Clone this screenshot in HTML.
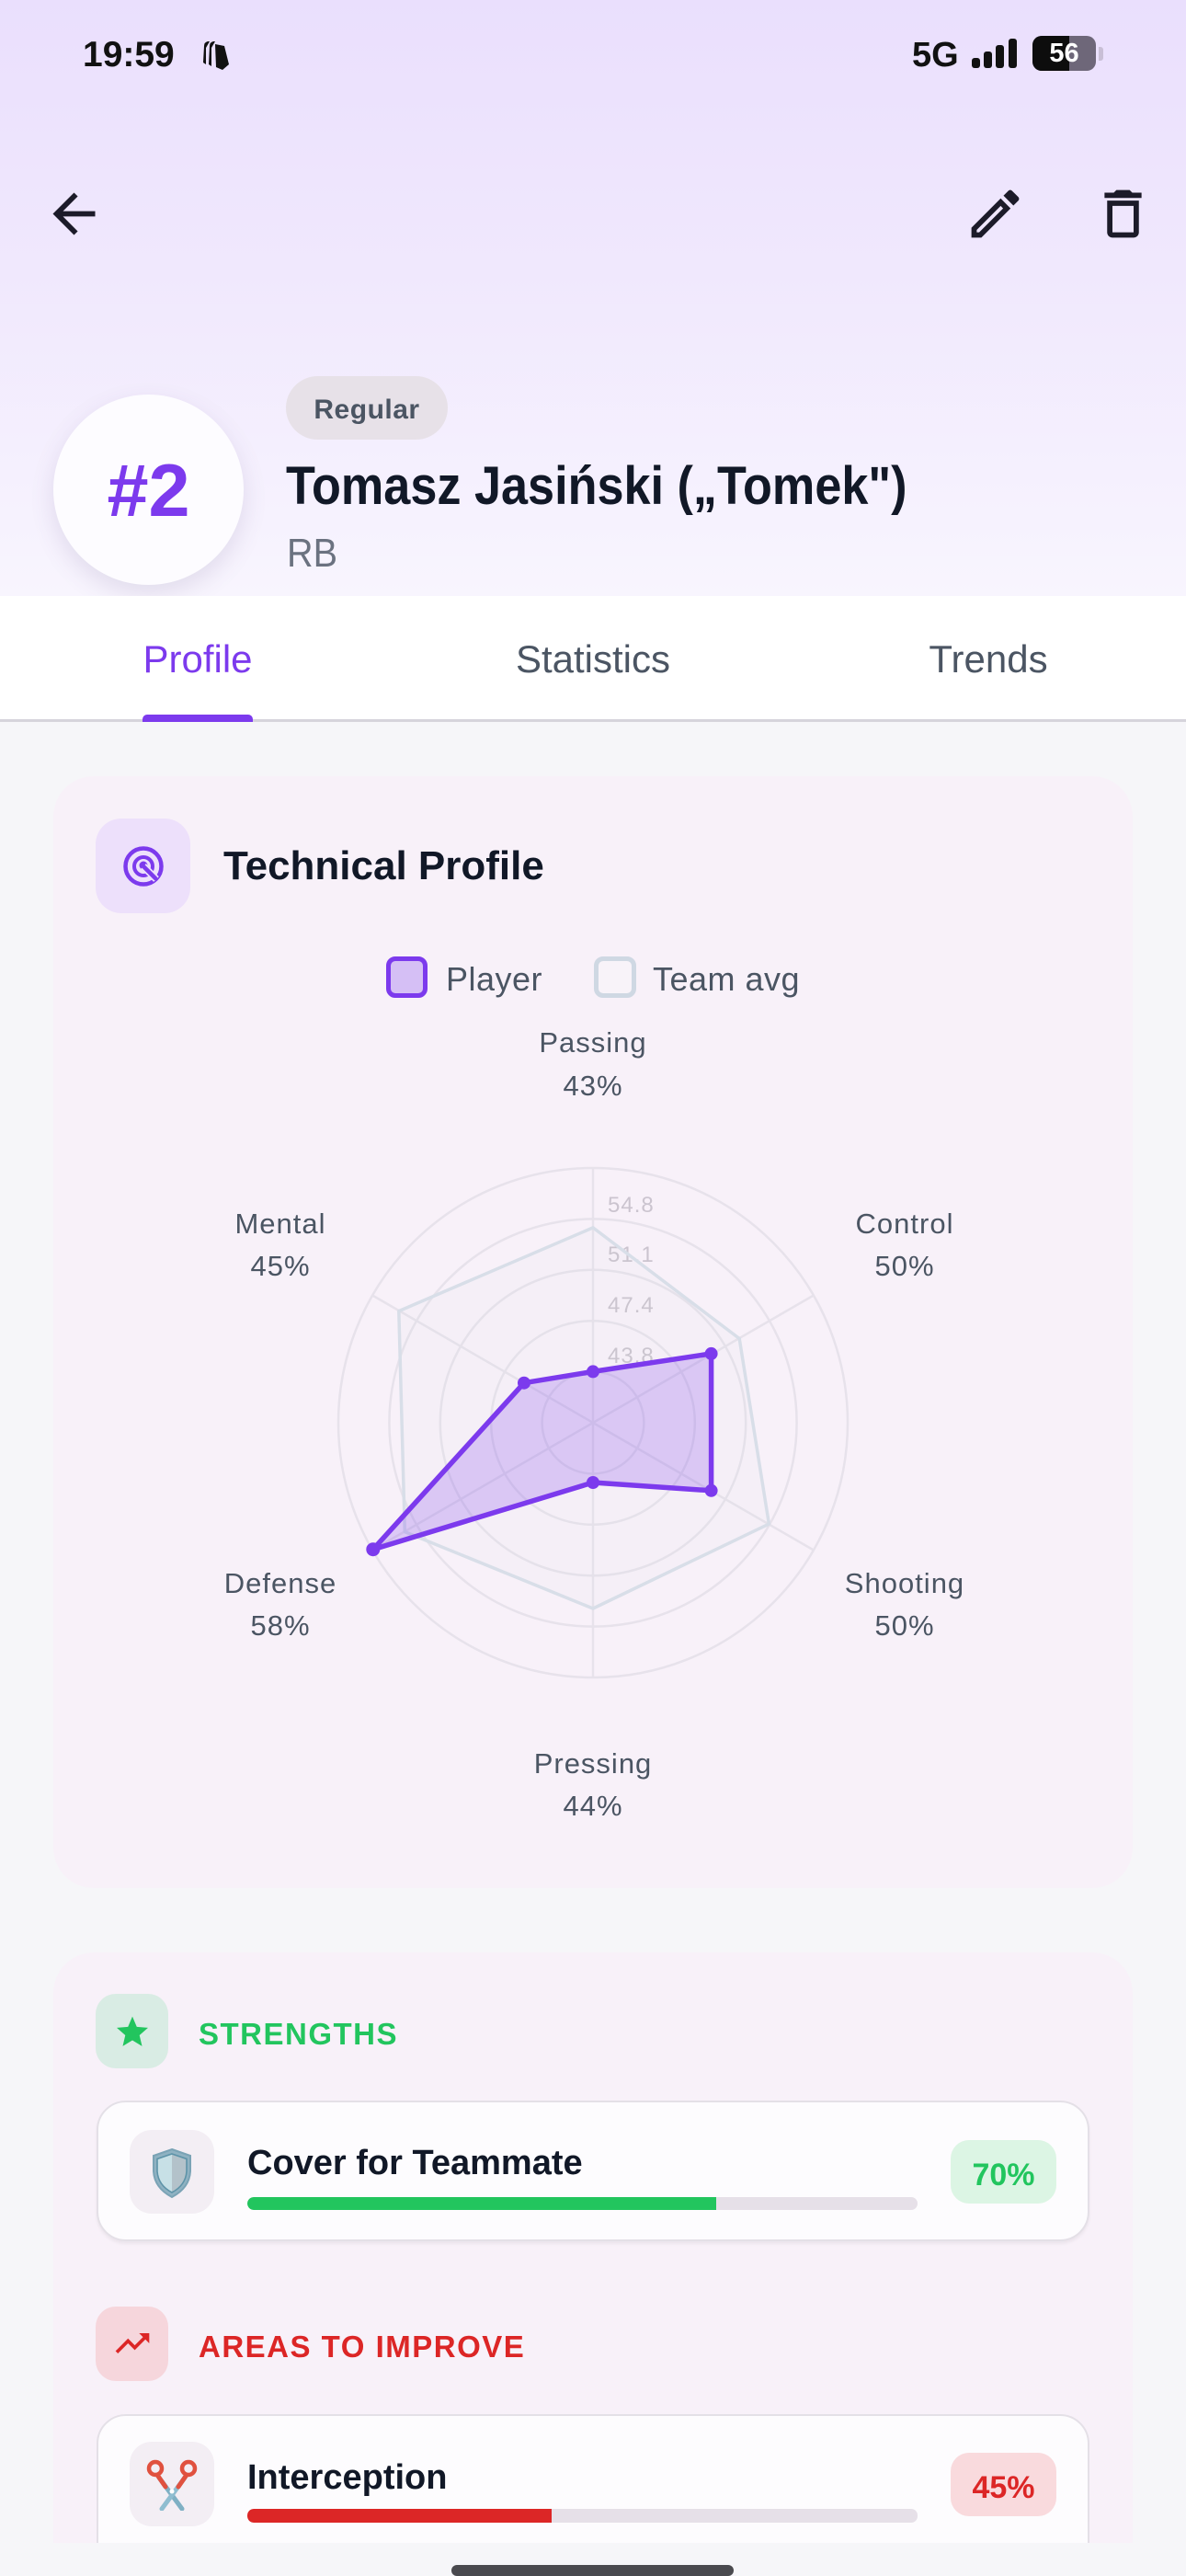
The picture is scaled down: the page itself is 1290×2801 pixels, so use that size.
<!DOCTYPE html>
<html>
<head>
<meta charset="utf-8">
<style>
  html,body{margin:0;padding:0;}
  body{width:1290px;height:2796px;position:relative;overflow:hidden;background:#f6f6f9;font-family:"Liberation Sans",sans-serif;}
  .abs{position:absolute;}
  .hdr{left:0;top:0;width:1290px;height:648px;background:linear-gradient(180deg,#eadffd 0%,#f0e8fd 45%,#f8f5fe 100%);}
  .tabs{left:0;top:648px;width:1290px;height:134px;background:#fff;border-bottom:3px solid #d6d4dc;}
  .tab{top:692px;font-size:42px;color:#4b5563;width:430px;text-align:center;line-height:50px;}
  .txt{white-space:nowrap;line-height:1;}
</style>
</head>
<body>
<!-- header -->
<div class="abs hdr"></div>

<!-- status bar -->
<div class="abs txt" style="left:90px;top:40px;font-size:39px;font-weight:bold;color:#111;">19:59</div>
<svg class="abs" style="left:218px;top:42px" width="36" height="36" viewBox="0 0 36 36">
  <path d="M4 8 Q4 4 8 3 L10 3 L6 10 L6 28 L3 26 Z" fill="#111"/>
  <path d="M10 8 Q10 4 14 3 L16 3 L12 10 L12 30 L9 28 Z" fill="#111"/>
  <path d="M16 6 L26 8 L31 28 L24 34 L17 31 Z" fill="#111"/>
</svg>
<div class="abs txt" style="left:992px;top:41px;font-size:38px;font-weight:bold;color:#111;">5G</div>
<div class="abs" style="left:1057px;top:63px;width:9px;height:11px;background:#111;border-radius:3px;"></div>
<div class="abs" style="left:1070px;top:56px;width:9px;height:18px;background:#111;border-radius:3px;"></div>
<div class="abs" style="left:1083px;top:49px;width:9px;height:25px;background:#111;border-radius:3px;"></div>
<div class="abs" style="left:1097px;top:42px;width:9px;height:32px;background:#111;border-radius:3px;"></div>
<div class="abs" style="left:1123px;top:39px;width:69px;height:38px;border-radius:10px;overflow:hidden;background:#6e6779;">
  <div style="position:absolute;left:0;top:0;width:40px;height:38px;background:#0d0d0d;"></div>
  <div style="position:absolute;left:0;top:5px;width:69px;text-align:center;font-size:29px;font-weight:bold;color:#fff;line-height:29px;">56</div>
</div>
<div class="abs" style="left:1195px;top:51px;width:5px;height:15px;background:#c9bfd6;border-radius:0 3px 3px 0;"></div>

<!-- top action icons -->
<svg class="abs" style="left:46px;top:198px" width="69" height="69" viewBox="0 0 24 24"><path d="M20 11H7.83l5.59-5.59L12 4l-8 8 8 8 1.41-1.41L7.83 13H20v-2z" fill="#1c1b29"/></svg>
<svg class="abs" style="left:1048px;top:198px" width="69" height="69" viewBox="0 0 24 24"><path d="M3 17.25V21h3.75L17.81 9.94l-3.75-3.75L3 17.25zM5.92 19H5v-.92l9.06-9.06.92.92L5.92 19zM20.71 5.63l-2.34-2.34c-.2-.2-.45-.29-.71-.29s-.51.1-.7.29l-1.83 1.83 3.75 3.75 1.83-1.83c.39-.39.39-1.02 0-1.41z" fill="#1c1b29"/></svg>
<svg class="abs" style="left:1187px;top:198px" width="69" height="69" viewBox="0 0 24 24"><path d="M6 19c0 1.1.9 2 2 2h8c1.1 0 2-.9 2-2V7H6v12zM8 9h8v10H8V9zm7.5-5l-1-1h-5l-1 1H5v2h14V4z" fill="#1c1b29"/></svg>

<!-- avatar -->
<div class="abs" style="left:58px;top:429px;width:207px;height:207px;border-radius:50%;background:#fdfcff;box-shadow:0 10px 26px rgba(90,70,130,0.14);"></div>
<div class="abs txt" style="left:58px;top:494px;width:207px;text-align:center;font-size:81px;font-weight:bold;color:#7c3aed;">#2</div>

<!-- chip -->
<div class="abs" style="left:311px;top:409px;width:176px;height:69px;border-radius:35px;background:#e7e1e8;"></div>
<div class="abs txt" style="left:311px;top:431px;width:176px;text-align:center;font-size:30px;font-weight:bold;color:#4b5563;letter-spacing:0.5px;">Regular</div>

<!-- name -->
<div class="abs txt" style="left:311px;top:500px;font-size:58px;font-weight:bold;color:#111827;transform:scaleX(0.9);transform-origin:0 0;">Tomasz Jasiński („Tomek")</div>
<div class="abs txt" style="left:312px;top:580px;font-size:44px;color:#6b7280;transform:scaleX(0.9);transform-origin:0 0;">RB</div>

<!-- tabs -->
<div class="abs tabs"></div>
<div class="abs tab" style="left:0;color:#7c3aed;">Profile</div>
<div class="abs tab" style="left:430px;">Statistics</div>
<div class="abs tab" style="left:860px;">Trends</div>
<div class="abs" style="left:155px;top:777px;width:120px;height:8px;background:#7c3aed;border-radius:5px 5px 0 0;"></div>

<!-- card 1 -->
<div class="abs" style="left:58px;top:844px;width:1174px;height:1209px;border-radius:44px;background:#f8f1f9;"></div>
<div class="abs" style="left:104px;top:890px;width:103px;height:103px;border-radius:28px;background:#ede0fb;"></div>
<svg class="abs" style="left:104px;top:890px" width="103" height="103" viewBox="104 890 103 103">
  <circle cx="156" cy="942" r="19.5" fill="none" stroke="#7c3aed" stroke-width="4.5"/>
  <circle cx="156" cy="942" r="10" fill="none" stroke="#7c3aed" stroke-width="4"/>
  <circle cx="156" cy="941" r="4.5" fill="#7c3aed"/>
  <line x1="156" y1="942" x2="170" y2="956" stroke="#ede0fb" stroke-width="8"/>
  <line x1="156" y1="942" x2="169" y2="955" stroke="#7c3aed" stroke-width="4.5" stroke-linecap="round"/>
</svg>
<div class="abs txt" style="left:243px;top:920px;font-size:44px;font-weight:bold;color:#111827;">Technical Profile</div>

<!-- legend -->
<div class="abs" style="left:420px;top:1040px;width:35px;height:35px;border:5px solid #7c3aed;border-radius:10px;background:#d5bff5;"></div>
<div class="abs txt" style="left:485px;top:1047px;font-size:36px;color:#4b5563;letter-spacing:0.5px;">Player</div>
<div class="abs" style="left:646px;top:1040px;width:36px;height:35px;border:5px solid #cfd8e3;border-radius:10px;background:#f8f3f9;"></div>
<div class="abs txt" style="left:710px;top:1047px;font-size:36px;color:#4b5563;letter-spacing:0.5px;">Team avg</div>

<!-- radar -->
<svg class="abs" style="left:0;top:1100px" width="1290" height="900" viewBox="0 1100 1290 900" font-family="Liberation Sans, sans-serif">
  <g fill="none" stroke="#e7e2eb" stroke-width="2.5">
    <circle cx="645" cy="1547" r="55.4"/>
    <circle cx="645" cy="1547" r="110.8"/>
    <circle cx="645" cy="1547" r="166.2"/>
    <circle cx="645" cy="1547" r="221.6"/>
    <circle cx="645" cy="1547" r="277"/>
    <line x1="645" y1="1547" x2="645" y2="1270"/>
    <line x1="645" y1="1547" x2="884.9" y2="1408.5"/>
    <line x1="645" y1="1547" x2="884.9" y2="1685.5"/>
    <line x1="645" y1="1547" x2="645" y2="1824"/>
    <line x1="645" y1="1547" x2="405.1" y2="1685.5"/>
    <line x1="645" y1="1547" x2="405.1" y2="1408.5"/>
  </g>
  <g font-size="24" fill="#cbc4cf" letter-spacing="1">
    <text x="661" y="1318">54.8</text>
    <text x="661" y="1372">51.1</text>
    <text x="661" y="1427">47.4</text>
    <text x="661" y="1482">43.8</text>
  </g>
  <polygon points="645,1334.9 804.2,1455.5 836.4,1657.1 645,1749 440.3,1665.6 433.8,1425.6" fill="rgba(203,213,225,0.06)" stroke="#d8dee8" stroke-width="3.5" stroke-linejoin="round"/>
  <polygon points="645,1491.4 773.6,1471.9 773.6,1620.8 645,1612 405.8,1684.7 570,1503.7" fill="rgba(124,58,237,0.22)" stroke="#7c3aed" stroke-width="5.5" stroke-linejoin="round"/>
  <g fill="#7c3aed">
    <circle cx="645" cy="1491.4" r="7"/>
    <circle cx="773.6" cy="1471.9" r="7"/>
    <circle cx="773.6" cy="1620.8" r="7"/>
    <circle cx="645" cy="1612" r="7"/>
    <circle cx="405.8" cy="1684.7" r="7.5"/>
    <circle cx="570" cy="1503.7" r="7"/>
  </g>
  <g font-size="31" fill="#4b5563" text-anchor="middle" letter-spacing="1">
    <text x="645" y="1144">Passing</text>
    <text x="645" y="1191">43%</text>
    <text x="305" y="1341">Mental</text>
    <text x="305" y="1387">45%</text>
    <text x="984" y="1341">Control</text>
    <text x="984" y="1387">50%</text>
    <text x="305" y="1732">Defense</text>
    <text x="305" y="1778">58%</text>
    <text x="984" y="1732">Shooting</text>
    <text x="984" y="1778">50%</text>
    <text x="645" y="1928">Pressing</text>
    <text x="645" y="1974">44%</text>
  </g>
</svg>

<!-- card 2 (clipped viewport) -->
<div class="abs" style="left:0;top:0;width:1290px;height:2765px;overflow:hidden;">
  <div class="abs" style="left:58px;top:2123px;width:1174px;height:800px;border-radius:44px;background:#f8f1f9;"></div>

  <!-- strengths header -->
  <div class="abs" style="left:104px;top:2168px;width:79px;height:81px;border-radius:22px;background:#d9ece4;"></div>
  <svg class="abs" style="left:127px;top:2192px" width="34" height="34" viewBox="2 2 20 19.3"><path d="M12 17.27L18.18 21l-1.64-7.03L22 9.24l-7.19-.61L12 2 9.19 8.63 2 9.24l5.46 4.73L5.82 21z" fill="#22c55e"/></svg>
  <div class="abs txt" style="left:216px;top:2195px;font-size:33px;font-weight:bold;color:#22c55e;letter-spacing:1.5px;">STRENGTHS</div>

  <!-- item 1 -->
  <div class="abs" style="left:105px;top:2284px;width:1076px;height:149px;border:2px solid #e4e0e7;border-radius:32px;background:#fdfcfe;box-shadow:0 3px 3px rgba(0,0,0,0.05);"></div>
  <div class="abs" style="left:141px;top:2316px;width:92px;height:91px;border-radius:24px;background:#f3eef4;"></div>
  <svg class="abs" style="left:163px;top:2335px" width="48" height="56" viewBox="0 0 48 56">
    <path d="M24 2 L44 9 L44 26 Q43 44 24 54 Q5 44 4 26 L4 9 Z" fill="#8fb2c2" stroke="#7aa3b5" stroke-width="2"/>
    <path d="M24 7 L40 12.5 L40 26 Q39 41 24 49 Z" fill="#b3c2ca"/>
    <path d="M24 7 L8 12.5 L8 26 Q9 41 24 49 Z" fill="#c7e0e6"/>
    <path d="M24 7 L40 12.5 L40 26 Q39 41 24 49 Q9 41 8 26 L8 12.5 Z" fill="none" stroke="#5d93a8" stroke-width="1.6"/>
  </svg>
  <div class="abs txt" style="left:269px;top:2333px;font-size:38px;font-weight:bold;color:#111827;">Cover for Teammate</div>
  <div class="abs" style="left:269px;top:2389px;width:729px;height:14px;border-radius:7px;background:#e6e0e8;overflow:hidden;">
    <div style="width:510px;height:14px;background:#22c55e;border-radius:7px 0 0 7px;"></div>
  </div>
  <div class="abs" style="left:1034px;top:2327px;width:115px;height:69px;border-radius:20px;background:#dcf5e4;"></div>
  <div class="abs txt" style="left:1034px;top:2348px;width:115px;text-align:center;font-size:34px;font-weight:bold;color:#22c55e;">70%</div>

  <!-- areas to improve header -->
  <div class="abs" style="left:104px;top:2508px;width:79px;height:81px;border-radius:22px;background:#f6d6dc;"></div>
  <svg class="abs" style="left:122px;top:2526px" width="44" height="44" viewBox="0 0 24 24"><path d="M16 6l2.29 2.29-4.88 4.88-4-4L2 16.59 3.41 18l6-6 4 4 6.3-6.29L22 12V6z" fill="#dc2626"/></svg>
  <div class="abs txt" style="left:216px;top:2535px;font-size:33px;font-weight:bold;color:#dc2626;letter-spacing:1.5px;">AREAS TO IMPROVE</div>

  <!-- item 2 -->
  <div class="abs" style="left:105px;top:2625px;width:1076px;height:200px;border:2px solid #e4e0e7;border-radius:32px;background:#fdfcfe;"></div>
  <div class="abs" style="left:141px;top:2655px;width:92px;height:92px;border-radius:24px;background:#f3eef4;"></div>
  <svg class="abs" style="left:158px;top:2674px" width="58" height="56" viewBox="0 0 58 56">
    <path d="M15 20 L40 54" stroke="#7fb0c4" stroke-width="5" stroke-linecap="round"/>
    <path d="M43 20 L18 54" stroke="#8fbdd0" stroke-width="5" stroke-linecap="round"/>
    <circle cx="11" cy="10" r="7" fill="none" stroke="#e0513f" stroke-width="4.5"/>
    <circle cx="47" cy="10" r="7" fill="none" stroke="#e0513f" stroke-width="4.5"/>
    <path d="M13 17 L22 30" stroke="#e0513f" stroke-width="5" stroke-linecap="round"/>
    <path d="M45 17 L36 30" stroke="#e0513f" stroke-width="5" stroke-linecap="round"/>
    <circle cx="29" cy="35" r="2.5" fill="#ffffff"/>
  </svg>
  <div class="abs txt" style="left:269px;top:2675px;font-size:38px;font-weight:bold;color:#111827;">Interception</div>
  <div class="abs" style="left:269px;top:2728px;width:729px;height:15px;border-radius:7px;background:#e6e0e8;overflow:hidden;">
    <div style="width:331px;height:15px;background:#dc2626;border-radius:7px 0 0 7px;"></div>
  </div>
  <div class="abs" style="left:1034px;top:2667px;width:115px;height:69px;border-radius:20px;background:#f9dadd;"></div>
  <div class="abs txt" style="left:1034px;top:2688px;width:115px;text-align:center;font-size:34px;font-weight:bold;color:#dc2626;">45%</div>
</div>

<!-- home indicator -->
<div class="abs" style="left:491px;top:2789px;width:307px;height:12px;border-radius:6px;background:#4a4a4f;"></div>
</body>
</html>
